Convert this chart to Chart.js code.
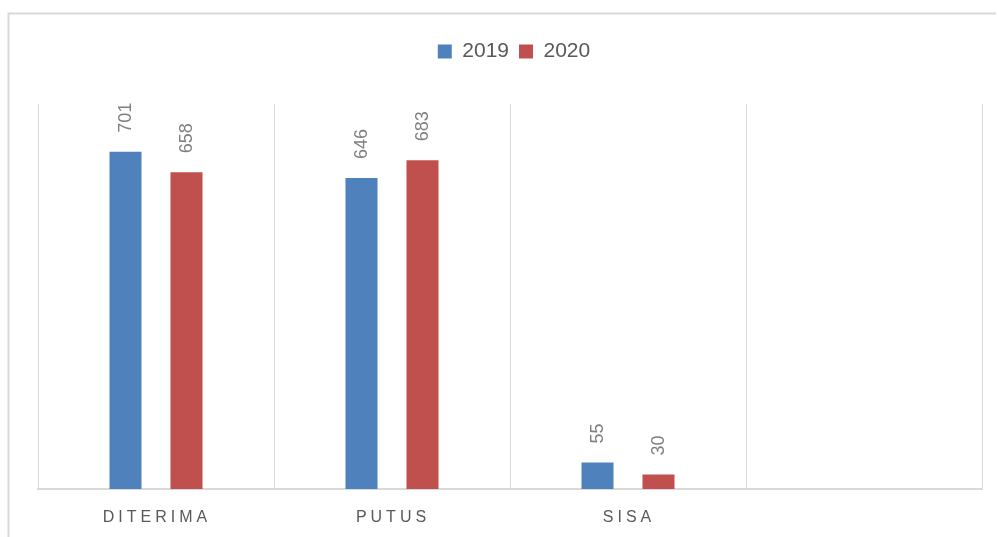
<!DOCTYPE html>
<html>
<head>
<meta charset="utf-8">
<script src="https://cdn.jsdelivr.net/npm/chart.js@4/dist/chart.umd.min.js"></script>
<style>
  html, body { margin: 0; padding: 0; background: #fff; }
  #wrap { position: relative; width: 998px; height: 537px; }
</style>
</head>
<body>
<div id="wrap"><canvas id="c" width="998" height="537"></canvas></div>
<script>
// Categories (the fourth slot is intentionally empty)
const categories = ['DITERIMA', 'PUTUS', 'SISA', ''];
const values2019 = [701, 646, 55, null];
const values2020 = [658, 683, 30, null];
const seriesNames = ['2019', '2020'];

const BLUE = '#4F81BD';
const RED = '#C0504D';
const GRID = '#d9d9d9';
const TEXT = '#595959';
const LABEL = '#7f7f7f';

// Light outer frame around the chart
const framePlugin = {
  id: 'frame',
  beforeDraw(chart) {
    const ctx = chart.ctx;
    ctx.save();
    ctx.strokeStyle = GRID;
    ctx.lineWidth = 2;
    ctx.beginPath();
    ctx.moveTo(8.5, chart.height + 2);
    ctx.lineTo(8.5, 13.5);
    ctx.lineTo(996, 13.5);
    ctx.stroke();
    ctx.restore();
  }
};

// Extra room below the legend, and a small nudge to the right
const legendGap = {
  id: 'legendGap',
  beforeInit(chart) {
    const orig = chart.legend.fit;
    chart.legend.fit = function () {
      orig.bind(chart.legend)();
      this.height += 32;
    };
  },
  afterLayout(chart) {
    chart.legend.left += 4;
    chart.legend.right += 4;
  }
};

// Rotated value labels above each bar
const valueLabels = {
  id: 'valueLabels',
  afterDatasetsDraw(chart) {
    const ctx = chart.ctx;
    ctx.save();
    ctx.fillStyle = LABEL;
    ctx.font = '18px "Liberation Sans", Arial, sans-serif';
    ctx.textAlign = 'left';
    ctx.textBaseline = 'middle';
    chart.data.datasets.forEach((ds, di) => {
      const meta = chart.getDatasetMeta(di);
      meta.data.forEach((bar, i) => {
        const v = ds.data[i];
        if (v === null || v === undefined) return;
        ctx.save();
        ctx.translate(bar.x + 1, bar.y - 19);
        ctx.rotate(-Math.PI / 2);
        ctx.fillText(String(v), 0, 0);
        ctx.restore();
      });
    });
    ctx.restore();
  }
};

// Letter-spaced category labels under the axis
const categoryLabels = {
  id: 'categoryLabels',
  afterDraw(chart) {
    const ctx = chart.ctx;
    const x = chart.scales.x;
    ctx.save();
    ctx.fillStyle = TEXT;
    ctx.font = '16px "Liberation Sans", Arial, sans-serif';
    ctx.letterSpacing = '4px';
    ctx.textAlign = 'left';
    ctx.textBaseline = 'middle';
    categories.forEach((label, i) => {
      if (!label) return;
      const w = ctx.measureText(label).width - 4;
      ctx.fillText(label, x.getPixelForTick(i) - w / 2 - 1, x.bottom + 29);
    });
    ctx.restore();
  }
};

new Chart(document.getElementById('c'), {
  type: 'bar',
  data: {
    labels: categories,
    datasets: [
      { label: seriesNames[0], data: values2019, backgroundColor: BLUE },
      { label: seriesNames[1], data: values2020, backgroundColor: RED }
    ]
  },
  options: {
    responsive: false,
    animation: false,
    devicePixelRatio: 1,
    categoryPercentage: 0.517,
    barPercentage: 0.525,
    layout: { padding: { left: 38, right: 16, top: 31, bottom: 48 } },
    plugins: {
      legend: {
        position: 'top',
        labels: {
          boxWidth: 14,
          boxHeight: 14,
          padding: 10,
          color: TEXT,
          font: { size: 21, family: '"Liberation Sans", Arial, sans-serif' }
        }
      },
      tooltip: { enabled: false }
    },
    scales: {
      x: {
        offset: true,
        grid: { display: true, offset: true, color: GRID, lineWidth: 1, drawTicks: false },
        border: { display: true, color: GRID, width: 2 },
        ticks: { display: false }
      },
      y: {
        display: false,
        min: 0,
        max: 800
      }
    }
  },
  plugins: [framePlugin, legendGap, valueLabels, categoryLabels]
});
</script>
</body>
</html>
